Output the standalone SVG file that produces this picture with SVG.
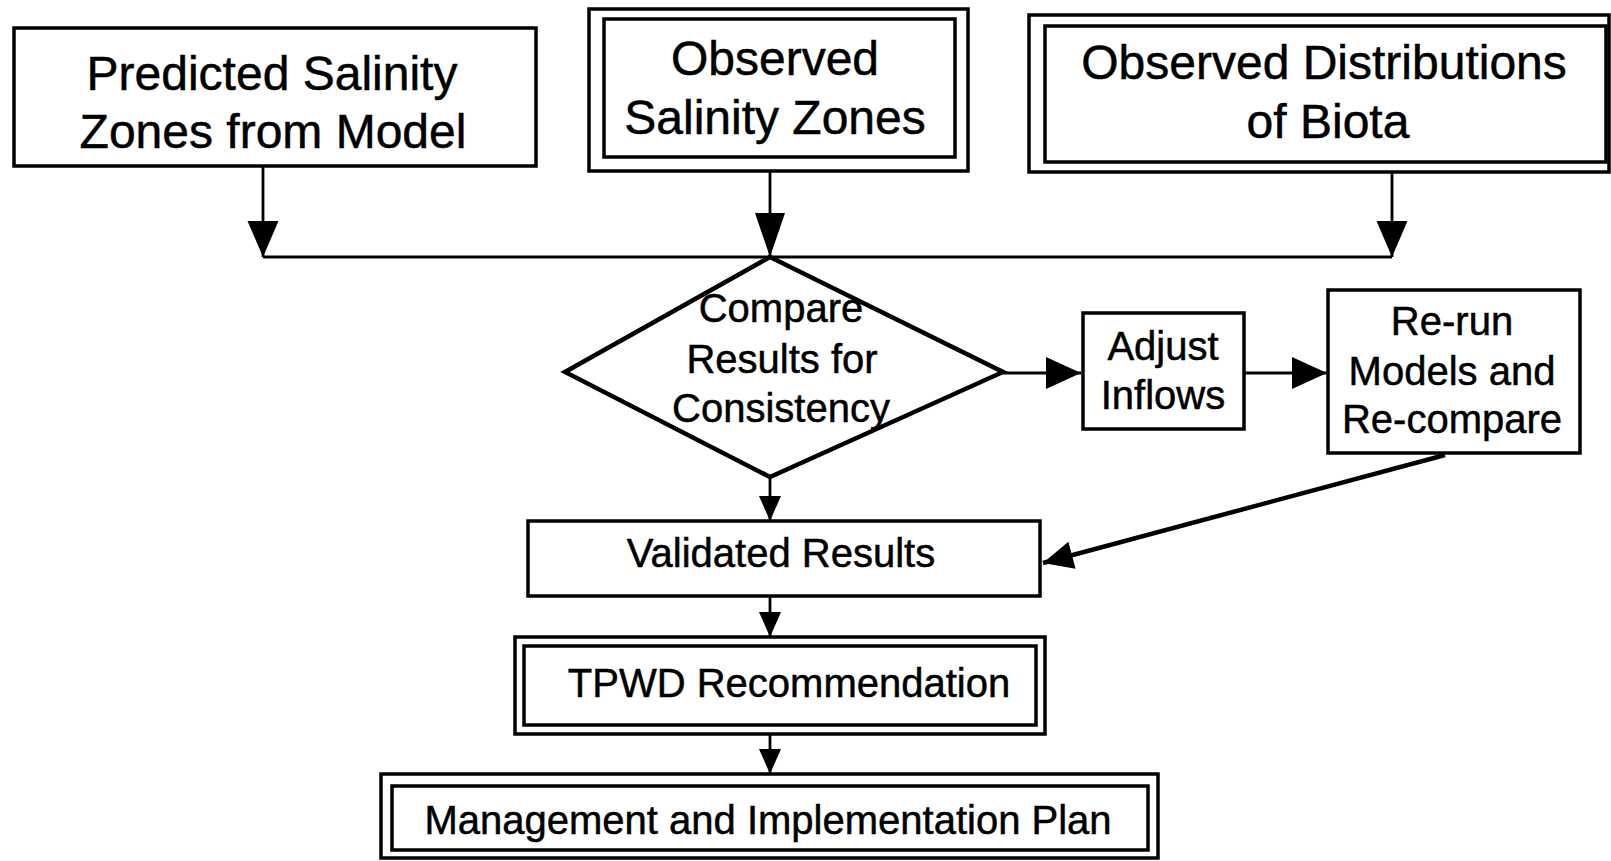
<svg xmlns="http://www.w3.org/2000/svg" width="1611" height="861" viewBox="0 0 1611 861">
<style>
  .box { fill: none; stroke: #000; stroke-width: 3.5; }
  .dia { fill: none; stroke: #000; stroke-width: 4.5; stroke-linejoin: miter; }
  .t48 { font-family: "Liberation Sans", Arial, Helvetica, sans-serif; font-size: 48px; fill: #000; stroke: #000; stroke-width: 0.5; text-anchor: middle; }
  .t40 { font-family: "Liberation Sans", Arial, Helvetica, sans-serif; font-size: 40px; fill: #000; stroke: #000; stroke-width: 0.5; text-anchor: middle; }
  .c { fill: none; stroke: #000; stroke-width: 2.8; }
  .cthick { fill: none; stroke: #000; stroke-width: 4.5; }
</style>
<defs>
  <marker id="mA" markerUnits="userSpaceOnUse" markerWidth="36" markerHeight="31" refX="36" refY="15.5" orient="auto" overflow="visible">
    <path d="M0,0 L36,15.5 L0,31 Z" fill="#000"/>
  </marker>
  <marker id="mB" markerUnits="userSpaceOnUse" markerWidth="44" markerHeight="30" refX="44" refY="15" orient="auto" overflow="visible">
    <path d="M0,0 L44,15 L0,30 Z" fill="#000"/>
  </marker>
  <marker id="mS" markerUnits="userSpaceOnUse" markerWidth="25" markerHeight="22" refX="25" refY="11" orient="auto" overflow="visible">
    <path d="M0,0 L25,11 L0,22 Z" fill="#000"/>
  </marker>
  <marker id="mH" markerUnits="userSpaceOnUse" markerWidth="35" markerHeight="32" refX="35" refY="16" orient="auto" overflow="visible">
    <path d="M0,0 L35,16 L0,32 Z" fill="#000"/>
  </marker>
  <marker id="mD" markerUnits="userSpaceOnUse" markerWidth="30" markerHeight="28" refX="30" refY="14" orient="auto" overflow="visible">
    <path d="M0,0 L30,14 L0,28 Z" fill="#000"/>
  </marker>
</defs>
<rect x="0" y="0" width="1611" height="861" fill="#fff"/>

<g id="connectors">
  <path class="c" d="M263,166 V257" marker-end="url(#mA)"/>
  <path class="c" d="M770,171 V257" marker-end="url(#mB)"/>
  <path class="c" d="M1392,172 V257" marker-end="url(#mA)"/>
  <path class="c" d="M263,257 H1392"/>
  <path class="c" d="M1003,373 H1081" marker-end="url(#mH)"/>
  <path class="c" d="M1244,373 H1327" marker-end="url(#mH)"/>
  <path class="cthick" d="M1445,455 L1043,563" marker-end="url(#mD)"/>
  <path class="c" d="M770,477 V521" marker-end="url(#mS)"/>
  <path class="c" d="M770,597 V637" marker-end="url(#mS)"/>
  <path class="c" d="M770,734 V774" marker-end="url(#mS)"/>
</g>

<g id="predicted">
  <rect class="box" x="14" y="28" width="522" height="138"/>
  <text class="t48" x="272" y="90">Predicted Salinity</text>
  <text class="t48" x="273" y="148">Zones from Model</text>
</g>

<g id="observed-salinity">
  <rect class="box" x="589" y="9" width="379" height="162"/>
  <rect class="box" x="604" y="19" width="351" height="138"/>
  <text class="t48" x="775" y="75">Observed</text>
  <text class="t48" x="775" y="134">Salinity Zones</text>
</g>

<g id="observed-biota">
  <rect class="box" x="1029" y="15" width="580" height="157"/>
  <rect class="box" x="1045" y="26" width="561" height="136"/>
  <text class="t48" x="1324" y="79">Observed Distributions</text>
  <text class="t48" x="1328" y="138">of Biota</text>
</g>

<g id="compare">
  <polygon class="dia" points="770,257 1003,372 770,477 565,372"/>
  <text class="t40" x="781" y="322">Compare</text>
  <text class="t40" x="782" y="373">Results for</text>
  <text class="t40" x="781" y="422">Consistency</text>
</g>

<g id="adjust">
  <rect class="box" x="1083" y="313" width="161" height="116"/>
  <text class="t40" x="1163" y="360">Adjust</text>
  <text class="t40" x="1163" y="409">Inflows</text>
</g>

<g id="rerun">
  <rect class="box" x="1328" y="290" width="252" height="163"/>
  <text class="t40" x="1452" y="335">Re-run</text>
  <text class="t40" x="1452" y="385">Models and</text>
  <text class="t40" x="1452" y="433">Re-compare</text>
</g>

<g id="validated">
  <rect class="box" x="528" y="521" width="512" height="75"/>
  <text class="t40" x="781" y="567">Validated Results</text>
</g>

<g id="tpwd">
  <rect class="box" x="515" y="637" width="530" height="97"/>
  <rect class="box" x="524" y="646" width="512" height="79"/>
  <text class="t40" x="789" y="697">TPWD Recommendation</text>
</g>

<g id="management">
  <rect class="box" x="381" y="774" width="777" height="84"/>
  <rect class="box" x="392" y="786" width="756" height="64"/>
  <text class="t40" x="768" y="834">Management and Implementation Plan</text>
</g>
</svg>
